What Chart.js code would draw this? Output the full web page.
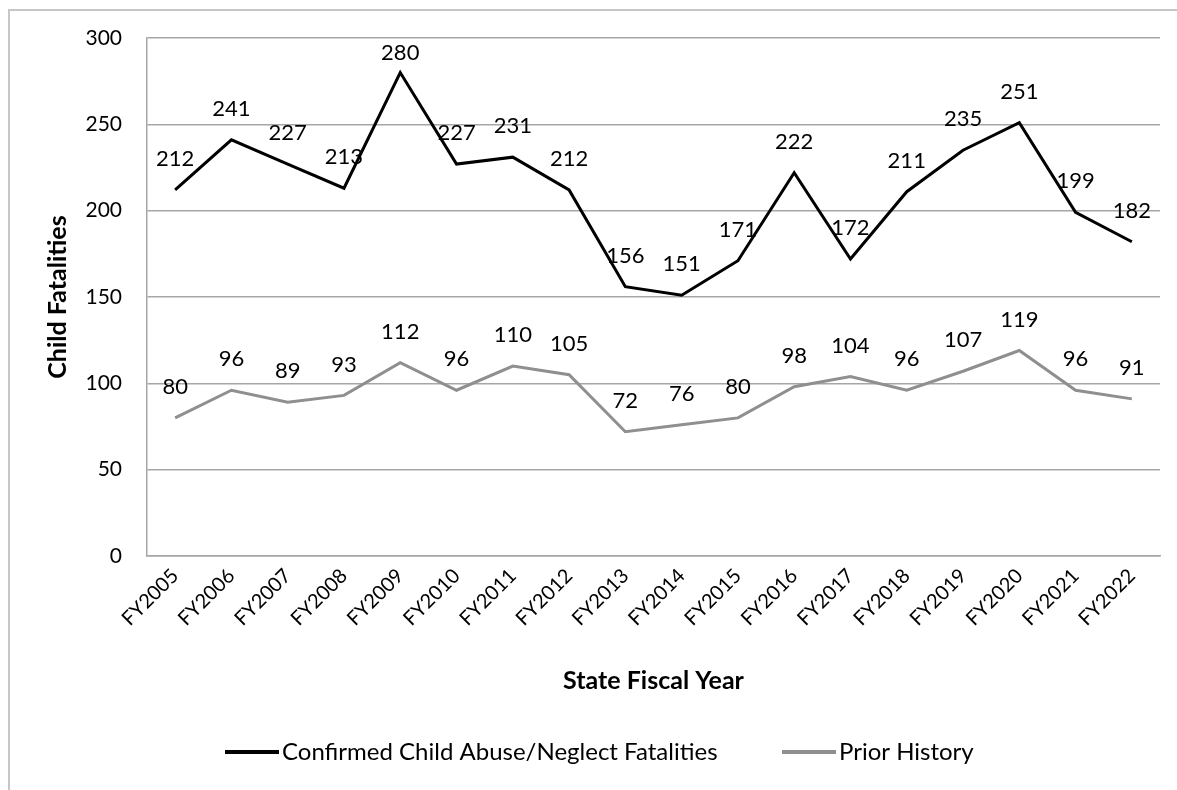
<!DOCTYPE html>
<html>
<head>
<meta charset="utf-8">
<script src="https://cdn.jsdelivr.net/npm/chart.js@4/dist/chart.umd.min.js"></script>
<style>
  body { margin: 0; background: #fff; overflow: hidden; }
  #frame { position: absolute; left: 8px; top: 9px; width: 1300px; height: 900px; border: 2px solid #c6c6c6; box-sizing: border-box; }
  #wrap { position: absolute; left: 0; top: 0; width: 1177px; height: 790px; }
</style>
</head>
<body>
<div id="frame"></div>
<div id="wrap"><canvas id="fatalChart" width="1177" height="790"></canvas></div>
<script>
const years = ["FY2005", "FY2006", "FY2007", "FY2008", "FY2009", "FY2010", "FY2011", "FY2012", "FY2013",
  "FY2014", "FY2015", "FY2016", "FY2017", "FY2018", "FY2019", "FY2020", "FY2021", "FY2022"];
const confirmed = [212, 241, 227, 213, 280, 227, 231, 212, 156, 151, 171, 222, 172, 211, 235, 251, 199, 182];
const priorHistory = [80, 96, 89, 93, 112, 96, 110, 105, 72, 76, 80, 98, 104, 96, 107, 119, 96, 91];
const yTicks = [0, 50, 100, 150, 200, 250, 300];

const FONT = "Lato, 'Noto Sans', sans-serif";

// value labels above every point
const valueLabels = {
  id: "valueLabels",
  afterDatasetsDraw(chart) {
    const ctx = chart.ctx;
    const top = chart.chartArea.top;
    ctx.save();
    ctx.font = "22px " + FONT;
    ctx.fillStyle = "#000";
    ctx.textAlign = "center";
    ctx.textBaseline = "middle";
    chart.data.datasets.forEach((ds, i) => {
      chart.getDatasetMeta(i).data.forEach((pt, j) => {
        const y = Math.max(pt.y - 31, top + 15);
        ctx.fillText(String(ds.data[j]), pt.x, y);
      });
    });
    ctx.restore();
  }
};

// legend drawn under the axis title, spaced like the original
const lineLegend = {
  id: "lineLegend",
  afterDraw(chart) {
    const ctx = chart.ctx;
    const y = 752;
    const starts = [225, 782];
    ctx.save();
    ctx.font = "24px " + FONT;
    ctx.textBaseline = "middle";
    ctx.textAlign = "left";
    chart.data.datasets.forEach((ds, i) => {
      const x = starts[i];
      ctx.strokeStyle = ds.borderColor;
      ctx.lineWidth = ds.borderWidth + 1;
      ctx.beginPath();
      ctx.moveTo(x, y);
      ctx.lineTo(x + 54, y);
      ctx.stroke();
      ctx.fillStyle = "#000";
      ctx.fillText(ds.label, x + 57, y);
    });
    ctx.restore();
  }
};

new Chart(document.getElementById("fatalChart"), {
  type: "line",
  data: {
    labels: years,
    datasets: [
      {
        label: "Confirmed Child Abuse/Neglect Fatalities",
        data: confirmed,
        borderColor: "#000000",
        borderWidth: 3,
        pointRadius: 0,
        tension: 0
      },
      {
        label: "Prior History",
        data: priorHistory,
        borderColor: "#8f8f8f",
        borderWidth: 3,
        pointRadius: 0,
        tension: 0
      }
    ]
  },
  options: {
    responsive: false,
    animation: false,
    layout: { padding: { top: 38, right: 17, bottom: 0, left: 0 } },
    plugins: {
      legend: { display: false },
      tooltip: { enabled: false }
    },
    scales: {
      x: {
        offset: true,
        grid: { display: false, drawTicks: false },
        border: { display: true, color: "#a6a6a6", width: 1.5 },
        ticks: {
          color: "#000",
          font: { family: FONT, size: 20 },
          minRotation: 45,
          maxRotation: 45,
          padding: 8,
          autoSkip: false
        },
        title: {
          display: true,
          text: "State Fiscal Year",
          color: "#000",
          font: { family: FONT, size: 25, weight: "bold" },
          padding: { top: 0, bottom: 94 }
        },
        afterFit(scale) { scale.height = 234; }
      },
      y: {
        min: 0,
        max: 300,
        afterBuildTicks(scale) { scale.ticks = yTicks.map(v => ({ value: v })); },
        grid: { color: "#a6a6a6", lineWidth: 1.5, drawTicks: false },
        border: { display: true, color: "#a6a6a6", width: 1.5 },
        ticks: {
          color: "#000",
          font: { family: FONT, size: 21 },
          padding: 25
        },
        title: {
          display: true,
          text: "Child Fatalities",
          color: "#000",
          font: { family: FONT, size: 25, weight: "bold" },
          padding: { top: 43, bottom: 0 }
        },
        afterFit(scale) { scale.width = 147; }
      }
    }
  },
  plugins: [valueLabels, lineLegend]
});
</script>
</body>
</html>
